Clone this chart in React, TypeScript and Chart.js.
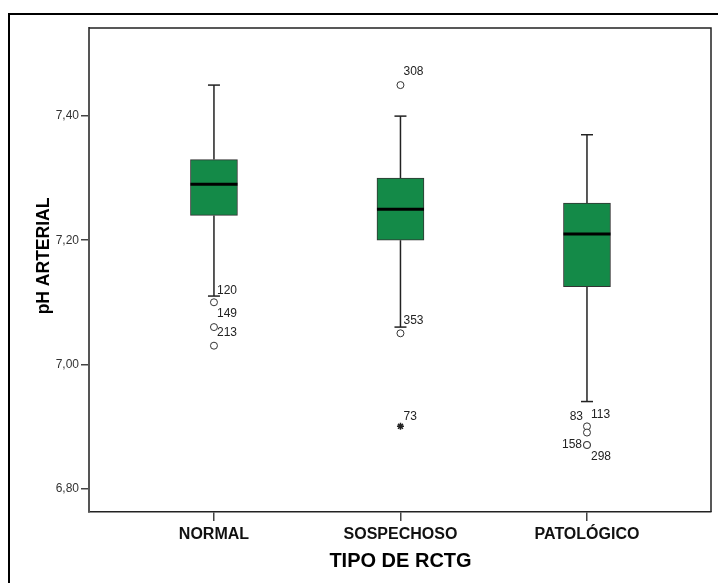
import React, { useEffect, useRef } from 'react';
import { Chart, registerables } from 'chart.js';

Chart.register(...registerables);

// ---- data ----
const categories = ['NORMAL', 'SOSPECHOSO', 'PATOLÓGICO'];
const whiskerLow = [7.11, 7.06, 6.94];
const q1 = [7.24, 7.2, 7.125];
const median = [7.29, 7.25, 7.21];
const q3 = [7.33, 7.3, 7.26];
const whiskerHigh = [7.45, 7.4, 7.37];

const outlierGroup = [0, 0, 0, 1, 1, 2, 2, 2, 2];
const outlierValue = [7.1, 7.06, 7.03, 7.45, 7.05, 6.9, 6.89, 6.87, 6.87];
const outlierId = ['120', '149', '213', '308', '353', '83', '113', '158', '298'];

const extremeGroup = [1];
const extremeValue = [6.9];
const extremeId = ['73'];

const yTicks = [6.8, 7.0, 7.2, 7.4];
const yMin = 6.762;
const yMax = 7.542;
const xMin = -0.67;
const xMax = 2.665;

const xTitle = 'TIPO DE RCTG';
const yTitle = 'pH ARTERIAL';

// ---- styles ----
const FONT = '"Liberation Sans", Arial, sans-serif';
const BOX_FILL = '#148a48';
const BOX_DATASET = 2;
// label placement offsets (px) for outlier ids: [dx, dy, align]
const outlierLabelOffset: [number, number, CanvasTextAlign][] = [
  [3, -12, 'left'],
  [3, -13, 'left'],
  [3, -13, 'left'],
  [3, -13, 'left'],
  [3, -13, 'left'],
  [-4, -10, 'right'],
  [4, -18, 'left'],
  [-5, 0, 'right'],
  [4, 12, 'left'],
];
const extremeLabelOffset: [number, number, CanvasTextAlign][] = [[3, -10, 'left']];

const boxPlugin = {
  id: 'boxExtras',
  beforeDatasetsDraw(chart: any) {
    const { ctx, scales } = chart;
    const xs = scales.x;
    const ys = scales.y;
    ctx.save();
    ctx.strokeStyle = '#222';
    ctx.lineWidth = 1.5;
    categories.forEach((_, i) => {
      const x = xs.getPixelForValue(i);
      const segs = [
        [q3[i], whiskerHigh[i]],
        [q1[i], whiskerLow[i]],
      ];
      segs.forEach(([a, b]) => {
        ctx.beginPath();
        ctx.moveTo(x, ys.getPixelForValue(a));
        ctx.lineTo(x, ys.getPixelForValue(b));
        ctx.stroke();
      });
      [whiskerHigh[i], whiskerLow[i]].forEach((v) => {
        const y = ys.getPixelForValue(v);
        ctx.beginPath();
        ctx.moveTo(x - 6, y);
        ctx.lineTo(x + 6, y);
        ctx.stroke();
      });
    });
    ctx.restore();
  },
  afterDatasetsDraw(chart: any) {
    const { ctx, scales, chartArea } = chart;
    const xs = scales.x;
    const ys = scales.y;
    const meta = chart.getDatasetMeta(BOX_DATASET);
    ctx.save();
    // medians
    ctx.strokeStyle = '#000';
    ctx.lineWidth = 3;
    categories.forEach((_, i) => {
      const bar = meta.data[i];
      const half = (bar && bar.width ? bar.width : 47) / 2;
      const x = xs.getPixelForValue(i);
      const y = ys.getPixelForValue(median[i]);
      ctx.beginPath();
      ctx.moveTo(x - half, y);
      ctx.lineTo(x + half, y);
      ctx.stroke();
    });
    // outlier labels
    ctx.fillStyle = '#222';
    ctx.font = `12px ${FONT}`;
    ctx.textBaseline = 'middle';
    outlierId.forEach((id, k) => {
      const [dx, dy, al] = outlierLabelOffset[k];
      ctx.textAlign = al;
      ctx.fillText(id, xs.getPixelForValue(outlierGroup[k]) + dx, ys.getPixelForValue(outlierValue[k]) + dy);
    });
    extremeId.forEach((id, k) => {
      const [dx, dy, al] = extremeLabelOffset[k];
      ctx.textAlign = al;
      ctx.fillText(id, xs.getPixelForValue(extremeGroup[k]) + dx, ys.getPixelForValue(extremeValue[k]) + dy);
    });
    // frame top & right
    ctx.strokeStyle = '#222';
    ctx.lineWidth = 1.5;
    ctx.beginPath();
    ctx.moveTo(chartArea.left, chartArea.top);
    ctx.lineTo(chartArea.right, chartArea.top);
    ctx.lineTo(chartArea.right, chartArea.bottom);
    ctx.stroke();
    ctx.restore();
  },
  afterDraw(chart: any) {
    const { ctx } = chart;
    ctx.save();
    ctx.fillStyle = '#000';
    ctx.font = `bold 20px ${FONT}`;
    ctx.textAlign = 'center';
    ctx.textBaseline = 'alphabetic';
    ctx.fillText(xTitle, 400.5, 567);
    ctx.translate(49, 256);
    ctx.rotate(-Math.PI / 2);
    ctx.font = `bold 17.5px ${FONT}`;
    ctx.fillText(yTitle, 0, 0);
    ctx.restore();
  },
};

export default function App() {
  const ref = useRef<HTMLCanvasElement>(null);
  useEffect(() => {
    const canvas = ref.current;
    if (!canvas) return;
    const chart = new Chart(canvas, {
      type: 'bar',
      data: {
        datasets: [
          {
            type: 'scatter',
            data: outlierValue.map((v, k) => ({ x: outlierGroup[k], y: v })),
            pointStyle: 'circle',
            pointRadius: 3.5,
            borderColor: '#333',
            backgroundColor: '#fff',
            borderWidth: 1,
            order: 0,
          } as any,
          {
            type: 'scatter',
            data: extremeValue.map((v, k) => ({ x: extremeGroup[k], y: v })),
            pointStyle: 'star',
            pointRadius: 3.5,
            borderColor: '#222',
            backgroundColor: '#222',
            borderWidth: 1.5,
            order: 0,
          } as any,
          {
            type: 'bar',
            data: categories.map((_, i) => ({ x: i, y: [q1[i], q3[i]] })),
            backgroundColor: BOX_FILL,
            borderColor: '#333',
            borderWidth: 1,
            borderSkipped: false,
            barThickness: 47,
            order: 1,
          } as any,
        ],
      },
      options: {
        animation: false,
        responsive: false,
        layout: { padding: { left: 0, top: 28, right: 7, bottom: 0 } },
        plugins: { legend: { display: false }, tooltip: { enabled: false } },
        scales: {
          x: {
            type: 'linear',
            min: xMin,
            max: xMax,
            offset: false,
            afterBuildTicks: (s: any) => {
              s.ticks = categories.map((_, i) => ({ value: i }));
            },
            afterFit: (s: any) => {
              s.height = 71;
            },
            ticks: {
              callback: (v: any) => categories[Number(v)] ?? '',
              font: { family: FONT, size: 16, weight: 'bold' },
              color: '#111',
              padding: 4,
              maxRotation: 0,
              autoSkip: false,
            },
            grid: { display: true, drawOnChartArea: false, drawTicks: true, tickLength: 9, color: '#444', lineWidth: 1.5, offset: false },
            border: { display: true, color: '#222', width: 1.5 },
          } as any,
          y: {
            type: 'linear',
            min: yMin,
            max: yMax,
            afterBuildTicks: (s: any) => {
              s.ticks = yTicks.map((v) => ({ value: v }));
            },
            afterFit: (s: any) => {
              s.width = 89;
            },
            ticks: {
              callback: (v: any) => Number(v).toFixed(2).replace('.', ','),
              font: { family: FONT, size: 12 },
              color: '#333',
              padding: 2,
            },
            grid: { drawOnChartArea: false, drawTicks: true, tickLength: 8, color: '#444', lineWidth: 1.5 },
            border: { display: true, color: '#555', width: 2 },
          } as any,
        },
      },
      plugins: [boxPlugin],
    });
    return () => chart.destroy();
  }, []);

  return (
    <div style={{ position: 'fixed', left: 0, top: 0, width: 718, height: 583, background: '#fff', overflow: 'hidden' }}>
      <canvas ref={ref} width={718} height={583} style={{ display: 'block', position: 'absolute', left: 0, top: 0 }} />
      <div
        style={{
          position: 'absolute',
          left: 8,
          top: 13,
          width: 800,
          height: 700,
          borderLeft: '2px solid #000',
          borderTop: '2px solid #000',
          pointerEvents: 'none',
        }}
      />
    </div>
  );
}
